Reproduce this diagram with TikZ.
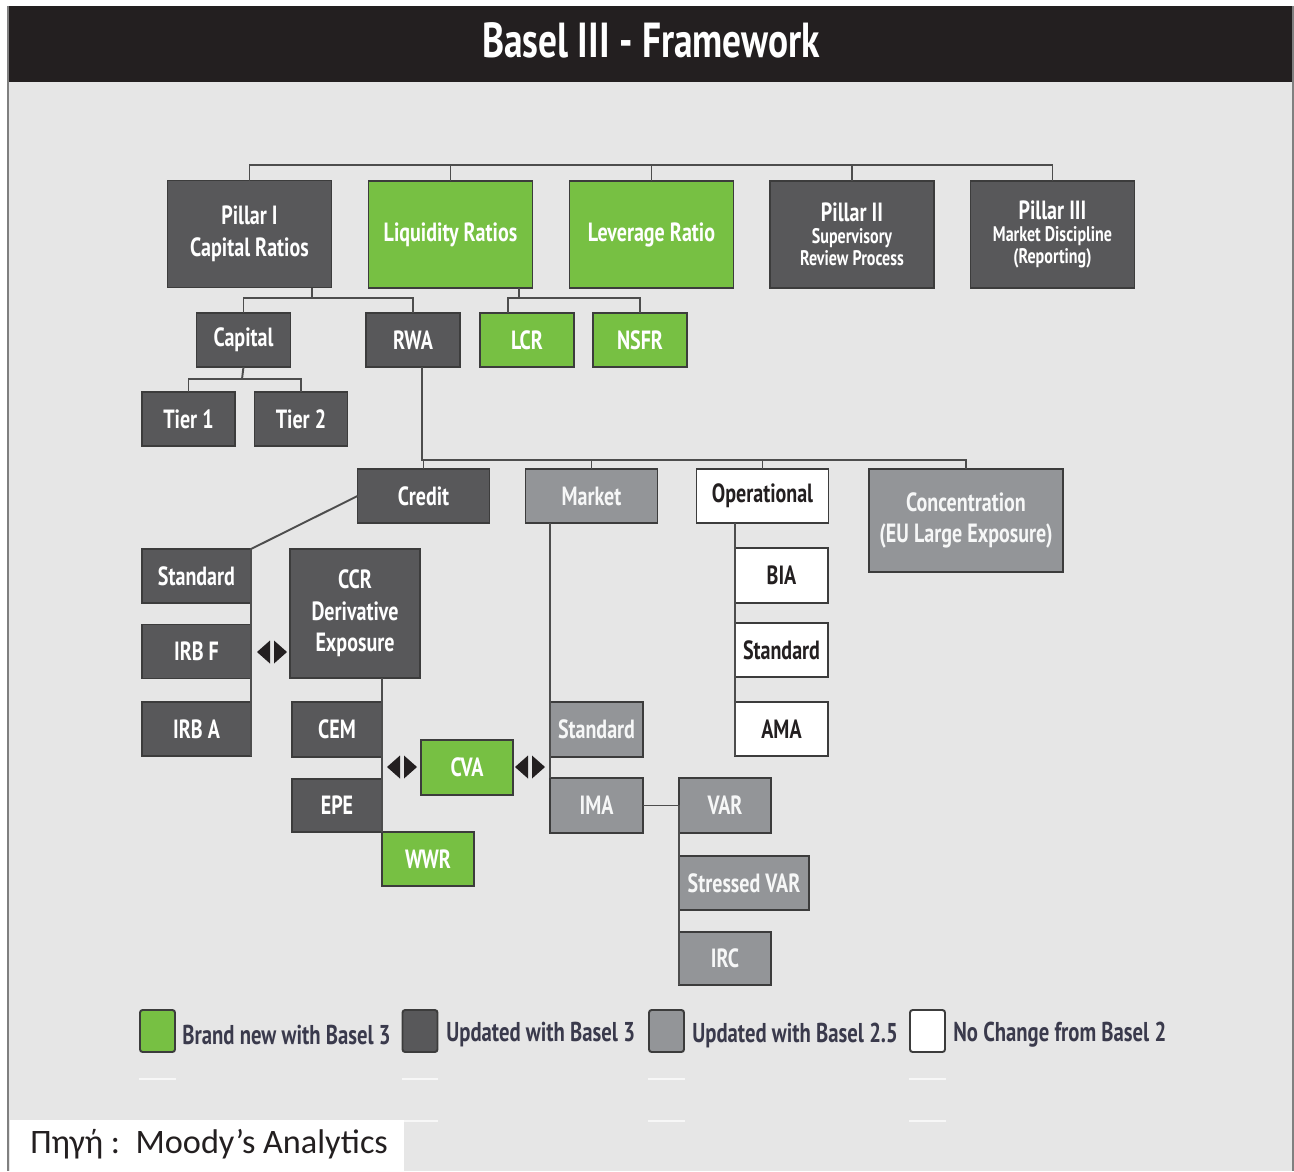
\documentclass[tikz,border=0pt]{standalone}
\usepackage{fontspec}
\usepackage{tikz}
\usetikzlibrary{positioning}

\newfontfamily\boxfont{PT Sans}[FakeStretch=0.76]
\newfontfamily\srcfont{Carlito}
\newcommand\subfnt{\fontsize{12}{12}\selectfont}

\definecolor{bgray}{HTML}{E6E6E6}
\definecolor{barblack}{HTML}{231F20}
\definecolor{dkfill}{HTML}{58585A}
\definecolor{mdfill}{HTML}{939598}
\definecolor{gnfill}{HTML}{77C043}
\definecolor{edgecol}{HTML}{3C3C3C}
\definecolor{wirecol}{HTML}{4D4D4D}
\definecolor{inkcol}{HTML}{231F20}
\definecolor{legcol}{HTML}{3A3A4C}

\tikzset{
  box/.style={draw=edgecol, line width=1.1pt, inner sep=0pt, outer sep=0pt, align=center,
              font=\boxfont\bfseries\fontsize{15}{18}\selectfont},
  dkbox/.style={box, fill=dkfill, text=white},
  gnbox/.style={box, fill=gnfill, text=white},
  mdbox/.style={box, fill=mdfill, text=white!92!mdfill},
  whbox/.style={box, fill=white, text=inkcol},
  topsize/.style={minimum width=3.28cm, minimum height=2.14cm},
  smallsize/.style={minimum width=1.88cm, minimum height=1.08cm},
  tight/.style={font=\boxfont\bfseries\fontsize{15}{12.5}\selectfont},
  wire/.style={draw=wirecol, line width=1.1pt},
  legbox/.style={draw=edgecol, line width=1.1pt, rounded corners=1.5pt, minimum width=0.7cm, minimum height=0.84cm, inner sep=0pt},
  legtext/.style={anchor=west, text=legcol, inner sep=0pt, font=\boxfont\bfseries\fontsize{15.5}{17}\selectfont},
  twin/.pic={
    \fill[barblack] (-2,-11.5) -- (-15,0) -- (-2,11.5) -- cycle;
    \fill[barblack] (2,-11.5) -- (15,0) -- (2,11.5) -- cycle;
  }
}

\begin{document}
\begin{tikzpicture}[x=0.02cm, y=-0.02cm]
\useasboundingbox (0,0) rectangle (1294,1171);
\fill[white] (0,0) rectangle (1294,1171);
\fill[bgray] (8,82) rectangle (1294,1171);
\fill[barblack] (8,6) rectangle (1294,82);
\draw[gray, line width=1.6pt] (8,6) -- (8,1171);
\draw[gray, line width=1pt] (1293,6) -- (1293,1171);
\fill[white] (10,1120) rectangle (404,1171);

\node[text=white, font=\boxfont\bfseries\fontsize{28}{30}\selectfont] (title) at (651,40) {Basel III - Framework};

% pillars
\node[dkbox, topsize] (pil1) at (249.5,234) {Pillar I\\Capital Ratios};
\node[gnbox, topsize] (liq) at (450.5,234.5) {Liquidity Ratios};
\node[gnbox, topsize] (lev) at (651.5,234.5) {Leverage Ratio};
\node[dkbox, topsize, tight] (pil2) at (852,234.5) {Pillar II\\\subfnt Supervisory\\\subfnt Review Process};
\node[dkbox, topsize, tight] (pil3) at (1052.5,234.5) {Pillar III\\\subfnt Market Discipline\\\subfnt (Reporting)};

\node[dkbox, smallsize] (cap) at (243.5,340) {Capital};
\node[dkbox, smallsize] (rwa) at (413,340) {RWA};
\node[gnbox, smallsize] (lcr) at (527,340) {LCR};
\node[gnbox, smallsize] (nsfr) at (640,340) {NSFR};

\node[dkbox, smallsize, minimum width=1.86cm] (t1) at (188.5,419) {Tier 1};
\node[dkbox, smallsize, minimum width=1.86cm] (t2) at (301,419) {Tier 2};

% risk types
\node[dkbox, smallsize, minimum width=2.64cm] (credit) at (423.5,496) {Credit};
\node[mdbox, smallsize, minimum width=2.64cm] (market) at (591.5,496) {Market};
\node[whbox, smallsize, minimum width=2.64cm] (oper) at (762.5,496) {Operational};
\node[mdbox, minimum width=3.88cm, minimum height=2.06cm] (conc) at (966,520.5) {Concentration\\(EU Large Exposure)};

% credit
\node[dkbox, smallsize, minimum width=2.18cm] (std) at (196.5,576) {Standard};
\node[dkbox, smallsize, minimum width=2.18cm] (irbf) at (196.5,651.5) {IRB F};
\node[dkbox, smallsize, minimum width=2.18cm] (irba) at (196.5,729) {IRB A};
\node[dkbox, minimum width=2.6cm, minimum height=2.58cm] (ccr) at (355,613.5) {CCR\\Derivative\\Exposure};
\node[dkbox, smallsize, minimum width=1.8cm, minimum height=1.1cm] (cem) at (337,729.5) {CEM};
\node[dkbox, smallsize, minimum width=1.8cm, minimum height=1.06cm] (epe) at (337,805.5) {EPE};
\node[gnbox, smallsize, minimum width=1.84cm] (wwr) at (428,859) {WWR};
\node[gnbox, smallsize, minimum width=1.84cm, minimum height=1.1cm] (cva) at (467,767.5) {CVA};

% market
\node[mdbox, smallsize, minimum width=1.86cm, minimum height=1.1cm] (mstd) at (596.5,729.5) {Standard};
\node[mdbox, smallsize, minimum width=1.86cm, minimum height=1.1cm] (ima) at (596.5,805.5) {IMA};
\node[mdbox, smallsize, minimum width=1.84cm, minimum height=1.1cm] (var) at (725,805.5) {VAR};
\node[mdbox, smallsize, minimum width=2.6cm] (svar) at (744,883) {Stressed VAR};
\node[mdbox, smallsize, minimum width=1.84cm, minimum height=1.06cm] (irc) at (725,958.5) {IRC};

% operational
\node[whbox, smallsize, minimum width=1.86cm, minimum height=1.1cm] (bia) at (781.5,575.5) {BIA};
\node[whbox, smallsize, minimum width=1.86cm] (ostd) at (781.5,650) {Standard};
\node[whbox, smallsize, minimum width=1.86cm] (ama) at (781.5,729) {AMA};

% connectors
\coordinate (tbus) at (249,165);
\draw[wire] (pil1.north) -- (pil1.north |- tbus) -- (pil3.north |- tbus) -- (pil3.north);
\foreach \n in {liq,lev,pil2} \draw[wire] (\n.north) -- (\n.north |- tbus);

\coordinate (p1bus) at (312,298);
\draw[wire] (p1bus |- pil1.south) -- (p1bus);
\draw[wire] (cap.north) |- (p1bus) -| (rwa.north);

\coordinate (lqbus) at (519,298);
\coordinate (lcrtop) at (508,313);
\draw[wire] (lqbus |- liq.south) -- (lqbus);
\draw[wire] (lcrtop) |- (lqbus) -| (nsfr.north);

\coordinate (capbus) at (242,379);
\draw[wire] (cap.south) -- (capbus);
\draw[wire] (t1.north) |- (capbus) -| (t2.north);

\coordinate (rbus) at (422,460);
\draw[wire] (rbus |- rwa.south) -- (rbus) -- (conc.north |- rbus) -- (conc.north);
\foreach \n in {credit,market,oper} \draw[wire] (\n.north) -- (\n.north |- rbus);

\draw[wire] (credit.west) -- (std.north east) -- (irba.south east);
\draw[wire] (ccr.south -| cem.east) -- (wwr.north west);
\draw[wire] (market.south -| mstd.west) -- (ima.north west);
\draw[wire] (ima.east) -- (var.west) -- (irc.south west);
\draw[wire] (oper.south -| bia.west) -- (ama.south west);

\pic at (272,652) {twin};
\pic at (402,767) {twin};
\pic at (530,767) {twin};

% legend
\node[legbox, fill=gnfill] (lg1) at (157.5,1031) {};
\node[legbox, fill=dkfill] (lg2) at (420,1031) {};
\node[legbox, fill=mdfill] (lg3) at (666.5,1031) {};
\node[legbox, fill=white] (lg4) at (927.5,1031) {};
\node[legtext] (lt1) at (182,1035) {Brand new with Basel 3};
\node[legtext] (lt2) at (446,1035) {Updated with Basel 3};
\node[legtext] (lt3) at (692,1035) {Updated with Basel 2.5};
\node[legtext] (lt4) at (953,1035) {No Change from Basel 2};
\foreach \n in {lg1,lg2,lg3,lg4} \draw[white, line width=0.6pt, opacity=0.7] (\n.west |- 0,1079) -- (\n.east |- 0,1079);
\foreach \n in {lg2,lg3,lg4} \draw[white, line width=0.6pt, opacity=0.7] (\n.west |- 0,1121) -- (\n.east |- 0,1121);

\node[anchor=base west, inner sep=0pt, text=inkcol, font=\srcfont\fontsize{19.5}{22}\selectfont] (src) at (30,1153) {Πηγή :\ \ Moody’s Analytics};
\end{tikzpicture}
\end{document}
